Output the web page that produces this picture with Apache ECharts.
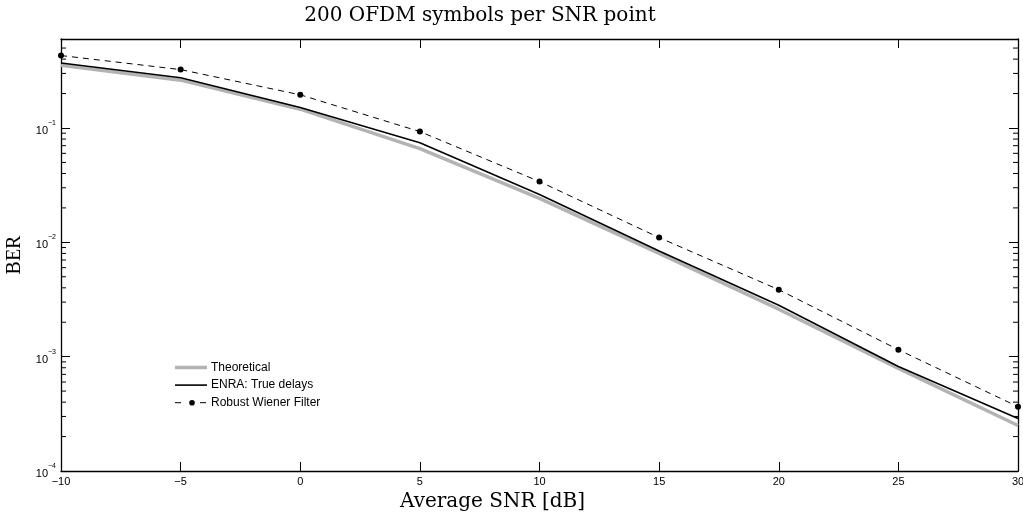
<!DOCTYPE html>
<html>
<head>
<meta charset="utf-8">
<script src="https://cdn.jsdelivr.net/npm/echarts@6/dist/echarts.min.js"></script>
<style>
html,body{margin:0;padding:0;background:#fff;}
#chart{width:1023px;height:515px;}
</style>
</head>
<body>
<div id="chart"></div>
<script>
// ---- data ----
var snr = [-10, -5, 0, 5, 10, 15, 20, 25, 30];
var theoretical = [0.354, 0.262, 0.146, 0.066, 0.0242, 0.0080, 0.00260, 0.00079, 0.000250];
var enraTrue = [0.370, 0.275, 0.151, 0.0744, 0.0262, 0.0084, 0.00282, 0.00082, 0.000288];
var robustWiener = [0.430, 0.324, 0.195, 0.093, 0.0340, 0.0110, 0.00385, 0.00115, 0.000365];
var xTickValues = [-10, -5, 0, 5, 10, 15, 20, 25, 30];
var yDecadeExps = [-4, -3, -2, -1];
var seriesNames = ['Theoretical', 'ENRA: True delays', 'Robust Wiener Filter'];
var titleText = '200 OFDM symbols per SNR point';
var xName = 'Average SNR [dB]';
var yName = 'BER';

var yMin = 1e-4, yMax = 0.6;
var minorTicks = [];
for (var e = -4; e <= -1; e++) {
  for (var k = 2; k <= 9; k++) {
    var v = k * Math.pow(10, e);
    if (v < yMax) minorTicks.push([v]);
  }
}

var chart = echarts.init(document.getElementById('chart'), null, {renderer: 'canvas'});

function pair(xs, ys) { return xs.map(function (x, i) { return [x, ys[i]]; }); }

function yLabel(v) {
  var ex = Math.round(Math.log10(v));
  if (yDecadeExps.indexOf(ex) < 0 || Math.abs(v - Math.pow(10, ex)) / v > 1e-6) return '';
  return '{b|10}{s|\u2212' + Math.abs(ex) + '}';
}

var sansFont = '"Liberation Sans", Arial, Helvetica, sans-serif';
var serifFont = '"Liberation Serif", "Times New Roman", serif';
var wideSerif = '"DejaVu Serif", "Liberation Serif", serif';

var gray = '#b3b3b3';

// manual legend (decoration, not data)
var lgX = 175, lgY = 367.5, lgStep = 17.6, lgW = 32;
var lgFont = '12px ' + sansFont;
var legendGraphics = [
  {type: 'line', shape: {x1: lgX, y1: lgY, x2: lgX + lgW, y2: lgY}, style: {stroke: gray, lineWidth: 3.5}},
  {type: 'text', x: lgX + lgW + 4, y: lgY, style: {text: seriesNames[0], font: lgFont, fill: '#000', textVerticalAlign: 'middle', verticalAlign: 'middle'}},
  {type: 'line', shape: {x1: lgX, y1: lgY + lgStep, x2: lgX + lgW, y2: lgY + lgStep}, style: {stroke: '#000', lineWidth: 1.6}},
  {type: 'text', x: lgX + lgW + 4, y: lgY + lgStep, style: {text: seriesNames[1], font: lgFont, fill: '#000', textVerticalAlign: 'middle', verticalAlign: 'middle'}},
  {type: 'line', shape: {x1: lgX, y1: lgY + 2 * lgStep, x2: lgX + 6, y2: lgY + 2 * lgStep}, style: {stroke: '#000', lineWidth: 1}},
  {type: 'line', shape: {x1: lgX + 25, y1: lgY + 2 * lgStep, x2: lgX + 31, y2: lgY + 2 * lgStep}, style: {stroke: '#000', lineWidth: 1}},
  {type: 'circle', shape: {cx: lgX + 17, cy: lgY + 2 * lgStep, r: 2.8}, style: {fill: '#000'}},
  {type: 'text', x: lgX + lgW + 4, y: lgY + 2 * lgStep, style: {text: seriesNames[2], font: lgFont, fill: '#000', textVerticalAlign: 'middle', verticalAlign: 'middle'}}
];

var option = {
  backgroundColor: '#fff',
  animation: false,
  title: {
    text: titleText,
    left: 475, top: 1,
    textAlign: 'center',
    textStyle: {fontFamily: wideSerif, fontSize: 20, fontWeight: 'normal', color: '#000'}
  },
  graphic: legendGraphics,
  grid: {left: 61, right: 5, top: 39, bottom: 44, containLabel: false, outerBoundsMode: 'none'},
  xAxis: [{
    type: 'value', min: -10, max: 30, interval: 5,
    position: 'bottom',
    axisLine: {show: true, onZero: false, lineStyle: {color: '#000', width: 1.3}},
    axisTick: {show: true, inside: true, length: 9, lineStyle: {color: '#000', width: 1}},
    axisLabel: {
      show: true, margin: 5, color: '#000', fontFamily: sansFont, fontSize: 11,
      formatter: function (v) { return xTickValues.indexOf(v) >= 0 ? String(v).replace('-', '\u2212') : ''; }
    },
    splitLine: {show: false},
    name: xName, nameLocation: 'middle', nameGap: 17,
    nameTextStyle: {fontFamily: wideSerif, fontSize: 20, color: '#000', padding: [0, 94, 0, 0]}
  }, {
    type: 'value', min: -10, max: 30, interval: 5,
    position: 'top',
    axisLine: {show: true, onZero: false, lineStyle: {color: '#000', width: 1.3}},
    axisTick: {show: true, inside: true, length: 9, lineStyle: {color: '#000', width: 1}},
    axisLabel: {show: false},
    splitLine: {show: false}
  }],
  yAxis: [{
    type: 'log', logBase: 10, min: yMin, max: yMax,
    position: 'left',
    axisLine: {show: true, onZero: false, lineStyle: {color: '#000', width: 1.3}},
    axisTick: {show: true, inside: true, length: 9, lineStyle: {color: '#000', width: 1}},
    axisLabel: {
      show: true, margin: 5, formatter: yLabel,
      rich: {
        b: {fontFamily: sansFont, fontSize: 11, color: '#000', verticalAlign: 'bottom', lineHeight: 17},
        s: {fontFamily: sansFont, fontSize: 7, color: '#000', verticalAlign: 'top', lineHeight: 17}
      }
    },
    splitLine: {show: false},
    minorTick: {show: false},
    name: yName, nameLocation: 'middle', nameGap: 34, nameRotate: 90,
    nameTextStyle: {fontFamily: serifFont, fontSize: 20, color: '#000'}
  }, {
    type: 'log', logBase: 10, min: yMin, max: yMax,
    position: 'right',
    axisLine: {show: true, onZero: false, lineStyle: {color: '#000', width: 1.3}},
    axisTick: {show: true, inside: true, length: 9, lineStyle: {color: '#000', width: 1}},
    axisLabel: {show: false},
    splitLine: {show: false}
  }],
  series: [{
    name: 'minorTicks',
    type: 'custom',
    xAxisIndex: 0, yAxisIndex: 0,
    silent: true,
    clip: false,
    data: minorTicks,
    encode: {y: 0},
    renderItem: function (params, api) {
      var v = api.value(0);
      var pL = api.coord([-10, v]);
      var pR = api.coord([30, v]);
      return {
        type: 'group',
        children: [
          {type: 'line', shape: {x1: pL[0], y1: pL[1], x2: pL[0] + 5, y2: pL[1]}, style: {stroke: '#000', lineWidth: 1}},
          {type: 'line', shape: {x1: pR[0], y1: pR[1], x2: pR[0] - 5, y2: pR[1]}, style: {stroke: '#000', lineWidth: 1}}
        ]
      };
    },
    z: 1
  }, {
    name: seriesNames[0], type: 'line',
    data: pair(snr, theoretical),
    showSymbol: false, symbol: 'none',
    lineStyle: {color: gray, width: 3.5},
    itemStyle: {color: gray},
    z: 2
  }, {
    name: seriesNames[1], type: 'line',
    data: pair(snr, enraTrue),
    showSymbol: false, symbol: 'none',
    lineStyle: {color: '#000', width: 1.6},
    itemStyle: {color: '#000'},
    z: 3
  }, {
    name: seriesNames[2], type: 'line',
    data: pair(snr, robustWiener),
    symbol: 'circle', symbolSize: 6,
    lineStyle: {color: '#000', width: 1, type: [6, 5]},
    itemStyle: {color: '#000'},
    clip: false,
    z: 4
  }]
};
chart.setOption(option);
</script>
</body>
</html>
